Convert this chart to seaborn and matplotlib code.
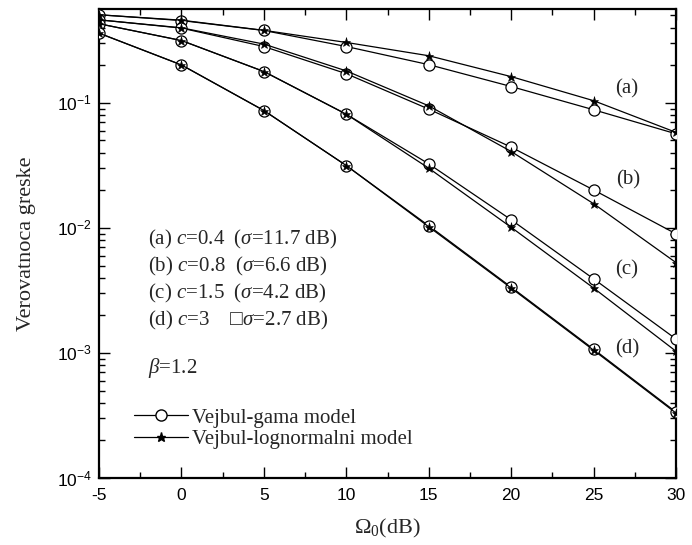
import numpy as np
import pandas as pd
import matplotlib
matplotlib.use("Agg")
import matplotlib.pyplot as plt
from matplotlib.ticker import FixedLocator, FuncFormatter, LogLocator, NullFormatter, MultipleLocator
from matplotlib.lines import Line2D
import seaborn as sns

# ---------------- data ----------------
omega0 = [-5, 0, 5, 10, 15, 20, 25, 30]

gama_a = [0.506, 0.455, 0.379, 0.282, 0.202, 0.135, 0.088, 0.0565]
gama_b = [0.461, 0.396, 0.282, 0.171, 0.0891, 0.0442, 0.0201, 0.00895]
gama_c = [0.429, 0.315, 0.178, 0.0811, 0.0325, 0.0116, 0.00391, 0.00129]
gama_d = [0.361, 0.201, 0.0868, 0.0315, 0.0104, 0.00336, 0.00107, 0.000336]

logn_a = [0.506, 0.458, 0.380, 0.304, 0.238, 0.162, 0.104, 0.058]
logn_b = [0.461, 0.398, 0.295, 0.180, 0.0946, 0.0408, 0.0156, 0.00527]
logn_c = [0.429, 0.315, 0.178, 0.0811, 0.0300, 0.0101, 0.00330, 0.00103]
logn_d = [0.361, 0.201, 0.0868, 0.0315, 0.0102, 0.00330, 0.00105, 0.000330]

curve_labels = ["(a)", "(b)", "(c)", "(d)"]
param_lines = [r"(a) $c$=0.4  ($\sigma$=11.7 dB)",
               r"(b) $c$=0.8  ($\sigma$=6.6 dB)",
               r"(c) $c$=1.5  ($\sigma$=4.2 dB)",
               "(d) $c$=3    \u25a1$\\sigma$=2.7 dB)"]
beta_text = r"$\beta$=1.2"
legend_labels = ["Vejbul-gama model", "Vejbul-lognormalni model"]
xlabel = r"$\Omega_0$(dB)"
ylabel = "Verovatnoca greske"

# ---------------- style ----------------
sns.set_style("ticks")
plt.rcParams["font.family"] = ["Liberation Serif", "DejaVu Serif"]
plt.rcParams["mathtext.fontset"] = "custom"
plt.rcParams["mathtext.rm"] = "Liberation Serif"
plt.rcParams["mathtext.it"] = "Liberation Serif:italic"
plt.rcParams["mathtext.sf"] = "Liberation Sans"

fig = plt.figure(figsize=(6.92, 5.45), dpi=100)
ax = fig.add_axes([0.143, 0.123, 0.834, 0.860])

gama = [gama_a, gama_b, gama_c, gama_d]
logn = [logn_a, logn_b, logn_c, logn_d]

for g in gama:
    sns.lineplot(x=omega0, y=g, ax=ax, color="black", lw=0.9,
                 marker="o", markersize=8, markerfacecolor="white",
                 markeredgecolor="black", markeredgewidth=0.9, zorder=3,
                 clip_on=True)
for l in logn:
    sns.lineplot(x=omega0, y=l, ax=ax, color="black", lw=0.9,
                 marker="*", markersize=6.5, markerfacecolor="black",
                 markeredgecolor="black", markeredgewidth=0.4, zorder=4,
                 clip_on=True)

ax.set_yscale("log")
ax.set_xlim(-5, 30)
ax.set_ylim(1e-4, 0.56)

ax.xaxis.set_major_locator(MultipleLocator(5))
ax.xaxis.set_minor_locator(MultipleLocator(2.5))
ax.yaxis.set_major_locator(FixedLocator([1e-4, 1e-3, 1e-2, 1e-1]))
ax.yaxis.set_minor_locator(LogLocator(base=10, subs=np.arange(2, 10)))
ax.yaxis.set_minor_formatter(NullFormatter())
ax.yaxis.set_major_formatter(FuncFormatter(
    lambda v, p: r"$\mathsf{10^{%d}}$" % int(round(np.log10(v)))))
ax.xaxis.set_major_formatter(FuncFormatter(lambda v, p: "%d" % v))

ax.tick_params(which="both", direction="in", top=True, right=True,
               colors="black", width=1.0)
ax.tick_params(which="major", length=8)
ax.tick_params(which="minor", length=4.5)
ax.tick_params(axis="both", labelsize=12.5)
ax.tick_params(axis="x", pad=7)
ax.tick_params(axis="y", pad=5)

for s in ax.spines.values():
    s.set_linewidth(1.6)
    s.set_color("black")

ax.set_xlabel(xlabel, fontsize=16, labelpad=10)
ax.set_ylabel(ylabel, fontsize=16, labelpad=15)

# curve labels
label_pos = [(0.914, 0.830), (0.917, 0.636), (0.914, 0.444), (0.916, 0.275)]
for t, (px, py) in zip(curve_labels, label_pos):
    ax.text(px, py, t, transform=ax.transAxes, fontsize=15,
            ha="center", va="center")

ys = [0.508, 0.451, 0.394, 0.337]
for t, py in zip(param_lines, ys):
    ax.text(0.085, py, t, transform=ax.transAxes, fontsize=15,
            ha="left", va="center")
ax.text(0.085, 0.235, beta_text, transform=ax.transAxes, fontsize=15,
        ha="left", va="center")

handles = [
    Line2D([], [], color="black", lw=0.9, marker="o", markersize=8,
           markerfacecolor="white", markeredgecolor="black"),
    Line2D([], [], color="black", lw=0.9, marker="*", markersize=6.5,
           markerfacecolor="black", markeredgecolor="black"),
]
ax.legend(handles, legend_labels, loc="upper left",
          bbox_to_anchor=(0.035, 0.18), frameon=False, fontsize=15,
          handlelength=2.6, handletextpad=0.2, labelspacing=0.1,
          borderpad=0.2)

for lab in ax.get_xticklabels():
    lab.set_family("Liberation Sans")

fig.savefig("out.png", dpi=100)
